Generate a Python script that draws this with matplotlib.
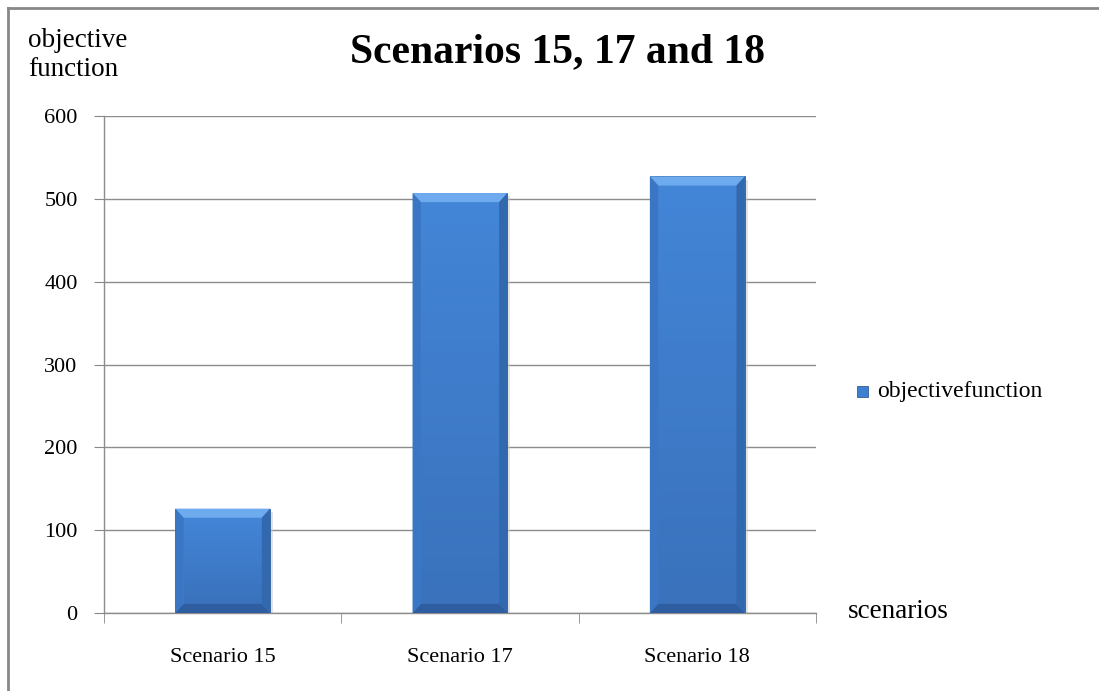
import matplotlib
matplotlib.use("Agg")
import matplotlib.pyplot as plt
from matplotlib.patches import Polygon, Rectangle
from matplotlib.lines import Line2D
from matplotlib.colors import LinearSegmentedColormap
import numpy as np

categories = ["Scenario 15", "Scenario 17", "Scenario 18"]
values = [126, 507, 527]
yticks = [0, 100, 200, 300, 400, 500, 600]
series_name = "objectivefunction"
title = "Scenarios 15, 17 and 18"

plt.rcParams['font.family'] = ['Liberation Serif', 'DejaVu Serif']

fig = plt.figure(figsize=(10.99, 6.91), dpi=100)
ax = fig.add_axes([104/1099, 78/691, (816-104)/1099, (613-116)/691])

x = np.arange(len(categories))
width = 0.4
base = "#3F7FD0"
ax.bar(x, values, width=width, color=base, edgecolor="#2F5F9A", linewidth=0.6, zorder=3)

# bevel effect derived from bar geometry
bx = 0.035  # horizontal bevel (data units)
by = 11     # vertical bevel (data units)
cm = LinearSegmentedColormap.from_list("g", ["#3A72BC", "#4385D7"])
for xi, v in zip(x, values):
    l, r = xi - width/2, xi + width/2
    ax.add_patch(Rectangle((r, 0), 0.012, v - 4, color="#c8c8c8", alpha=0.5, zorder=2, lw=0))
    ax.add_patch(Polygon([[l, v], [r, v], [r - bx, v - by], [l + bx, v - by]],
                         closed=True, color="#6EAAEE", lw=0, zorder=4))
    ax.add_patch(Polygon([[l, 0], [r, 0], [r - bx, by], [l + bx, by]],
                         closed=True, color="#2E5E9F", lw=0, zorder=4))
    ax.add_patch(Polygon([[l, 0], [l, v], [l + bx, v - by], [l + bx, by]],
                         closed=True, color="#3A76C4", lw=0, zorder=4))
    ax.add_patch(Polygon([[r, 0], [r, v], [r - bx, v - by], [r - bx, by]],
                         closed=True, color="#3268AE", lw=0, zorder=4))
    grad = np.linspace(0, 1, 100).reshape(-1, 1)
    ax.imshow(grad, extent=[l + bx, r - bx, by, v - by], origin="lower", cmap=cm,
              aspect="auto", zorder=3.5)

ax.set_xlim(-0.5, len(categories) - 0.5)
ax.set_ylim(0, 600)
ax.set_yticks(yticks)
ax.set_yticklabels([str(t) for t in yticks], fontsize=16)
ax.set_xticks(x)
ax.set_xticklabels(categories, fontsize=16)
ax.set_xticks(np.arange(-0.5, len(categories)), minor=True)
ax.tick_params(axis='x', which='major', length=0, pad=25)
ax.tick_params(axis='x', which='minor', length=7, color="#888888", direction='out')
ax.tick_params(axis='y', length=7, color="#888888", direction='out', pad=12)
ax.grid(axis='y', color="#8c8c8c", linewidth=1.0, zorder=0)
ax.set_axisbelow(True)
for s in ["top", "right"]:
    ax.spines[s].set_visible(False)
for s in ["left", "bottom"]:
    ax.spines[s].set_color("#8c8c8c")
    ax.spines[s].set_linewidth(1.0)

fig.text(557/1099, 1 - 52/691, title, ha="center", va="center", fontsize=30, fontweight="bold")
fig.text(28/1099, 1 - 55/691, "objective\nfunction", ha="left", va="center", fontsize=19.5,
         linespacing=1.2, multialignment="left")
fig.text(848/1099, 1 - 612/691, "scenarios", ha="left", va="center", fontsize=19.5)

fig.patches.append(Rectangle((857/1099, 1 - 397/691), 11/1099, 11/691, transform=fig.transFigure,
                             facecolor=base, edgecolor="#2F5F9A", lw=0.6))
fig.text(877/1099, 1 - 391/691, series_name, ha="left", va="center", fontsize=17)

fig.add_artist(Line2D([8/1099, 1], [1 - 8/691, 1 - 8/691], transform=fig.transFigure, color="#888888", lw=2))
fig.add_artist(Line2D([8/1099, 8/1099], [0, 1 - 8/691], transform=fig.transFigure, color="#888888", lw=2))

fig.savefig("out.png", dpi=100)
